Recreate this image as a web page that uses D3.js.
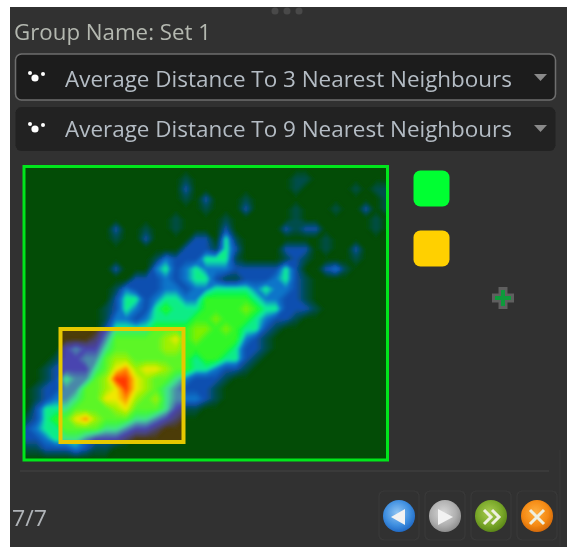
<!DOCTYPE html>
<html lang="en">
<head>
    <meta charset="UTF-8">
    <title>Group Name: Set 1</title>
    <style>
        body { margin: 0; padding: 0; background: #ffffff; }
        svg { display: block; }
        text { font-family: "Open Sans", "Noto Sans", sans-serif; }
    </style>
</head>
<body>
    <script src="https://d3js.org/d3.v7.min.js"></script>
    <script>
        // labels in the panel
        const groupLabel = "Group Name: Set 1";
        const axisOptions = ["Average Distance To 3 Nearest Neighbours", "Average Distance To 9 Nearest Neighbours"];
        const pageLabel = "7/7";

        // density, one row per 10px, top to bottom (0 empty .. 9 peak)
        const densityRows = [
            "00000 00000 00000 00000 00000 00000 00000 00",
            "00000 00000 00000 01000 00000 00110 00000 00",
            "00000 00000 00000 02000 00000 00100 00010 11",
            "00000 00000 00000 01020 00100 00000 00000 01",
            "00000 00000 00000 00010 00200 00100 01002 01",
            "00000 00000 00000 10000 10000 00100 00000 10",
            "00000 00002 00100 10000 20000 02122 00000 10",
            "00000 00001 00200 00220 41000 00000 10000 00",
            "00000 00000 00000 02221 42000 02220 10020 00",
            "00000 00000 00013 22244 41000 01210 00010 00",
            "00000 00002 00034 23433 32222 24200 23100 00",
            "00000 00000 02223 23442 11222 34210 00000 00",
            "00000 00001 32223 32334 44434 33210 00000 00",
            "00000 00002 44234 43355 55543 32210 00000 00",
            "00000 00012 43245 44455 55654 42221 00000 00",
            "00000 00013 32344 44556 55543 22100 00000 00",
            "00000 00024 44455 55665 65442 10000 00000 00",
            "00000 00135 55556 75655 55321 00000 00000 00",
            "00002 32245 55556 65555 54221 00000 00000 00",
            "00012 23356 65555 55455 44210 00000 00000 00",
            "00122 22457 86776 55443 22100 00000 00000 00",
            "00124 33569 97655 43222 10000 00000 00000 00",
            "01223 35567 97654 32221 00000 00000 00000 00",
            "01233 45577 86564 33321 00000 00000 00000 00",
            "02444 55556 75554 21100 00000 00000 00000 00",
            "12455 78655 54432 10000 00000 00000 00000 00",
            "23445 55544 32210 00000 00000 00000 00000 00",
            "22344 43222 10000 00000 00000 00000 00000 00",
            "11222 32110 00000 00000 00000 00000 00000 00",
            "00000 00000 00000 00000 00000 00000 00000 00"
        ];

        // colour ramps, outside the selection and inside it
        const rampLevels = [0, 1, 2, 3, 3.8, 4.6, 6, 7, 8, 9];
        const rampOutside = ["#034c06", "#044e4c", "#0a50b0", "#0a78cc", "#0ce8a0", "#10f838", "#80f000", "#f0e800", "#ff8800", "#ff3800"];
        const rampInside = ["#4c3c08", "#4a4470", "#4a44b0", "#4a90a8", "#40e090", "#40f838", "#a0f000", "#f0e800", "#ff8800", "#ff3800"];

        const swatchColors = ["#00ff33", "#ffd000"];

        const width = 567, height = 548;
        const plot = { left: 26, right: 386, top: 169, bottom: 459 };
        const selection = { left: 60.5, right: 183.5, top: 329, bottom: 442 };

        const grid = densityRows.map(r => r.replace(/ /g, "").split("").map(Number));
        const nRows = grid.length, nCols = grid[0].length;

        const x = d3.scaleLinear().domain([0.5, nCols - 0.5]).range([plot.left, plot.right]);
        const y = d3.scaleLinear().domain([0.5, nRows - 0.5]).range([plot.top, plot.bottom]);
        const colorOutside = d3.scaleLinear().domain(rampLevels).range(rampOutside);
        const colorInside = d3.scaleLinear().domain(rampLevels).range(rampInside);

        const svg = d3.select("body").append("svg").attr("width", width).attr("height", height);
        const defs = svg.append("defs");

        defs.append("filter").attr("id", "soft")
            .append("feGaussianBlur").attr("stdDeviation", 0.55);
        const heatBlur = defs.append("filter").attr("id", "heatBlur")
            .attr("x", "-5%").attr("y", "-5%").attr("width", "110%").attr("height", "110%");
        heatBlur.append("feGaussianBlur").attr("stdDeviation", 1.4);

        defs.append("clipPath").attr("id", "plotClip").append("rect")
            .attr("x", 24).attr("y", 167).attr("width", 364).attr("height", 294);
        defs.append("clipPath").attr("id", "selClip").append("rect")
            .attr("x", selection.left).attr("y", selection.top)
            .attr("width", selection.right - selection.left).attr("height", selection.bottom - selection.top);

        function ballGradient(id, light, mid, dark) {
            const g = defs.append("radialGradient").attr("id", id)
                .attr("cx", "45%").attr("cy", "40%").attr("r", "65%");
            g.append("stop").attr("offset", "0%").attr("stop-color", light);
            g.append("stop").attr("offset", "60%").attr("stop-color", mid);
            g.append("stop").attr("offset", "100%").attr("stop-color", dark);
        }
        ballGradient("ballBlue", "#8fc4f2", "#3f8fe0", "#1a62c0");
        ballGradient("ballGrey", "#d8d8d8", "#b0b0b0", "#868686");
        ballGradient("ballGreen", "#a8cc50", "#7aa82a", "#558014");
        ballGradient("ballOrange", "#ffb040", "#f58a14", "#cc6205");

        // panel background
        svg.append("rect").attr("x", 10).attr("y", 7).attr("width", width - 10).attr("height", height - 8)
            .attr("fill", "#313131");

        const ui = svg.append("g").attr("filter", "url(#soft)");

        // grip dots on top
        ui.selectAll(".grip").data([0, 1, 2]).enter().append("circle")
            .attr("cx", d => 275 + d * 12).attr("cy", 11).attr("r", 3.5).attr("fill", "#4a4a4a");

        ui.append("text").attr("x", 14).attr("y", 40)
            .attr("font-size", 22.5).attr("textLength", 197).attr("lengthAdjust", "spacingAndGlyphs")
            .attr("fill", "#b4b8b0").text(groupLabel);

        // the two dropdowns
        const boxes = [
            { y: 54, h: 46, stroke: "#6e6e6e", fill: "#1c1c1c", base: 87, mid: 77 },
            { y: 107, h: 44, stroke: "none", fill: "#222222", base: 137, mid: 128 }
        ];
        boxes.forEach((b, i) => {
            const g = ui.append("g");
            g.append("rect").attr("x", 15.5).attr("y", b.y).attr("width", 540).attr("height", b.h)
                .attr("rx", 6).attr("fill", b.fill).attr("stroke", b.stroke).attr("stroke-width", 1.5);
            g.append("circle").attr("cx", 35).attr("cy", b.mid + 1).attr("r", 3.6).attr("fill", "#fff");
            g.append("circle").attr("cx", 30).attr("cy", b.mid - 4).attr("r", 2).attr("fill", "#fff");
            g.append("circle").attr("cx", 43).attr("cy", b.mid - 3).attr("r", 2).attr("fill", "#fff");
            g.append("text").attr("x", 65).attr("y", b.base)
                .attr("font-size", 22.5).attr("textLength", 447).attr("lengthAdjust", "spacingAndGlyphs")
                .attr("fill", "#b4bcc4").text(axisOptions[i]);
            g.append("path").attr("d", `M534,${b.mid - 3}h13l-6.5,7z`).attr("fill", "#8a8a8a");
        });

        // density contours
        const contours = d3.contours().size([nCols, nRows]).thresholds(d3.range(0.1, 9.01, 0.1))(grid.flat());
        const path = d3.geoPath(d3.geoTransform({
            point(px, py) { this.stream.point(x(px), y(py)); }
        }));

        function drawHeat(clipId, background, color) {
            const outer = svg.append("g").attr("clip-path", `url(#${clipId})`);
            outer.append("rect").attr("x", 20).attr("y", 160).attr("width", 372).attr("height", 305)
                .attr("fill", background);
            outer.append("g").attr("filter", "url(#heatBlur)")
                .selectAll("path").data(contours).enter().append("path")
                .attr("d", path)
                .attr("fill", d => color(d.value));
        }
        drawHeat("plotClip", rampOutside[0], colorOutside);
        drawHeat("selClip", rampInside[0], colorInside);

        // plot and selection frames
        svg.append("rect").attr("x", 24).attr("y", 166.5).attr("width", 363.5).attr("height", 293.5)
            .attr("fill", "none").attr("stroke", "#00e61a").attr("stroke-width", 3).attr("filter", "url(#soft)");
        svg.append("rect").attr("x", selection.left).attr("y", selection.top)
            .attr("width", selection.right - selection.left).attr("height", selection.bottom - selection.top)
            .attr("fill", "none").attr("stroke", "#e6c800").attr("stroke-width", 4).attr("filter", "url(#soft)");

        const ui2 = svg.append("g").attr("filter", "url(#soft)");

        // colour swatches
        ui2.selectAll(".swatch").data(swatchColors).enter().append("rect")
            .attr("x", 413.5).attr("y", (d, i) => 170.5 + i * 60)
            .attr("width", 36).attr("height", 36).attr("rx", 7)
            .attr("fill", d => d);

        // add button
        ui2.append("path").attr("d", "M503,287v22M492,298h22").attr("stroke", "#5e5e5e")
            .attr("stroke-width", 9).attr("fill", "none");
        ui2.append("path").attr("d", "M503,290v16M495,298h16").attr("stroke", "#0a9a3a")
            .attr("stroke-width", 4).attr("fill", "none");

        // separator and page counter
        ui2.append("line").attr("x1", 20).attr("x2", 549).attr("y1", 471).attr("y2", 471)
            .attr("stroke", "#3d3d3d").attr("stroke-width", 1.5);
        ui2.append("line").attr("x1", 560).attr("x2", 560).attr("y1", 450).attr("y2", 546)
            .attr("stroke", "#3a3a3a").attr("stroke-width", 1);
        ui2.append("text").attr("x", 12).attr("y", 526)
            .attr("font-size", 22.5).attr("textLength", 35).attr("lengthAdjust", "spacingAndGlyphs")
            .attr("fill", "#b0b4b8").text(pageLabel);

        // nav buttons
        const buttons = [
            { cx: 399, fill: "url(#ballBlue)", icon: "M391,517l14,-8v16z", stroke: false },
            { cx: 445, fill: "url(#ballGrey)", icon: "M453,517l-15,-8v16z", stroke: false },
            { cx: 491, fill: "url(#ballGreen)", icon: "M484,510l7,7l-7,7M492,510l7,7l-7,7", stroke: true },
            { cx: 537, fill: "url(#ballOrange)", icon: "M530,510l14,14M544,510l-14,14", stroke: true }
        ];
        buttons.forEach(b => {
            ui2.append("rect").attr("x", b.cx - 20).attr("y", 491).attr("width", 40).attr("height", 49)
                .attr("rx", 5).attr("fill", "none").attr("stroke", "#393939").attr("stroke-width", 1.2);
            ui2.append("circle").attr("cx", b.cx).attr("cy", 516).attr("r", 16).attr("fill", b.fill);
            ui2.append("path").attr("d", b.icon)
                .attr("fill", b.stroke ? "none" : "#f2f2f2")
                .attr("stroke", b.stroke ? "#eef0e0" : "none")
                .attr("stroke-width", b.stroke ? 3 : 0);
        });
    </script>
</body>
</html>
